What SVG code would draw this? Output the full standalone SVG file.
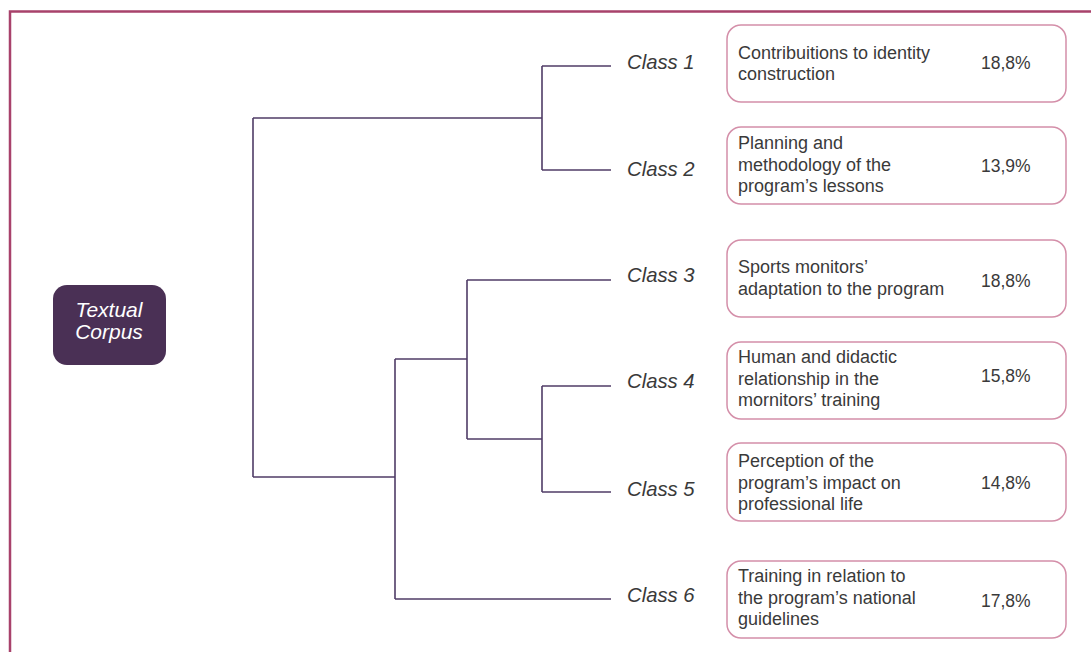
<svg xmlns="http://www.w3.org/2000/svg" width="1091" height="652" viewBox="0 0 1091 652">
<style>
.frame{fill:none;stroke:#a8426b;stroke-width:2.5}
.conn{fill:none;stroke:#4f3b66;stroke-width:1.6}
.box{fill:#fff;stroke:#d48fa9;stroke-width:1.5}
.cls{font-family:"Liberation Sans",Arial,sans-serif;font-style:italic;font-size:20.3px;fill:#3a3a3a}
.desc{font-family:"Liberation Sans",Arial,sans-serif;font-size:18px;fill:#3a3a3a}
.pct{font-family:"Liberation Sans",Arial,sans-serif;font-size:17.5px;fill:#3a3a3a}
.root{fill:#4a3055}
.rootT{font-family:"Liberation Sans",Arial,sans-serif;font-style:italic;font-size:21px;fill:#fff;text-anchor:middle}
</style>
<rect width="1091" height="652" fill="#fff"/>
<path class="frame" d="M10,652 V11.5 H1091"/>
<g id="connectors">
<path class="conn" d="M253,118 V477"/>
<path class="conn" d="M253,118 H542"/>
<path class="conn" d="M542,66 V170"/>
<path class="conn" d="M542,66 H611"/>
<path class="conn" d="M542,170 H611"/>
<path class="conn" d="M253,477 H395"/>
<path class="conn" d="M395,359 V599"/>
<path class="conn" d="M395,359 H467"/>
<path class="conn" d="M395,599 H611"/>
<path class="conn" d="M467,280 V439"/>
<path class="conn" d="M467,280 H611"/>
<path class="conn" d="M467,439 H542"/>
<path class="conn" d="M542,386 V492"/>
<path class="conn" d="M542,386 H611"/>
<path class="conn" d="M542,492 H611"/>
</g>
<g id="root">
<rect class="root" x="53" y="285" width="113" height="80" rx="14"/>
<text class="rootT" x="109" y="316.5">Textual</text>
<text class="rootT" x="109" y="338.5">Corpus</text>
</g>
<g id="class1">
<text class="cls" x="627" y="69">Class 1</text>
<rect class="box" x="727" y="25" width="339" height="77" rx="14"/>
<text class="desc" x="738" y="59">Contribuitions to identity</text>
<text class="desc" x="738" y="80">construction</text>
<text class="pct" x="981" y="69">18,8%</text>
</g>
<g id="class2">
<text class="cls" x="627" y="176">Class 2</text>
<rect class="box" x="727" y="127" width="339" height="77" rx="14"/>
<text class="desc" x="738" y="149">Planning and</text>
<text class="desc" x="738" y="170.5">methodology of the</text>
<text class="desc" x="738" y="192">program’s lessons</text>
<text class="pct" x="981" y="171.5">13,9%</text>
</g>
<g id="class3">
<text class="cls" x="627" y="282">Class 3</text>
<rect class="box" x="727" y="240" width="339" height="77" rx="14"/>
<text class="desc" x="738" y="273">Sports monitors’</text>
<text class="desc" x="738" y="294.5">adaptation to the program</text>
<text class="pct" x="981" y="286.5">18,8%</text>
</g>
<g id="class4">
<text class="cls" x="627" y="388">Class 4</text>
<rect class="box" x="727" y="342" width="339" height="77" rx="14"/>
<text class="desc" x="738" y="363">Human and didactic</text>
<text class="desc" x="738" y="384.5">relationship in the</text>
<text class="desc" x="738" y="406">mornitors’ training</text>
<text class="pct" x="981" y="381.5">15,8%</text>
</g>
<g id="class5">
<text class="cls" x="627" y="496">Class 5</text>
<rect class="box" x="727" y="443" width="339" height="78" rx="14"/>
<text class="desc" x="738" y="467">Perception of the</text>
<text class="desc" x="738" y="488.5">program’s impact on</text>
<text class="desc" x="738" y="510">professional life</text>
<text class="pct" x="981" y="489">14,8%</text>
</g>
<g id="class6">
<text class="cls" x="627" y="602">Class 6</text>
<rect class="box" x="727" y="561" width="339" height="77" rx="14"/>
<text class="desc" x="738" y="582">Training in relation to</text>
<text class="desc" x="738" y="603.5">the program’s national</text>
<text class="desc" x="738" y="625">guidelines</text>
<text class="pct" x="981" y="606.5">17,8%</text>
</g>
</svg>
